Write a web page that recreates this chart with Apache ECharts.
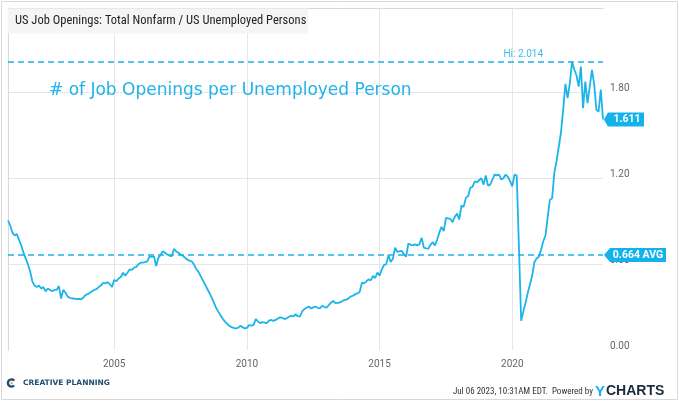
<!DOCTYPE html>
<html>
<head>
<meta charset="utf-8">
<script src="https://cdn.jsdelivr.net/npm/echarts@6/dist/echarts.min.js"></script>
<style>
html,body{margin:0;padding:0;background:#fff;}
#chart{width:679px;height:402px;}
</style>
</head>
<body>
<div id="chart"></div>
<script>
// Monthly ratio: US Job Openings (Total Nonfarm) / US Unemployed Persons
const startYear = 2000, startMonth = 12; // first observation: Dec 2000
const y2000 = [0.905];
const y2001 = [0.87,0.82,0.80,0.81,0.77,0.73,0.68,0.64,0.60,0.55,0.48,0.45];
const y2002 = [0.44,0.45,0.43,0.44,0.41,0.43,0.42,0.41,0.42,0.42,0.447,0.36];
const y2003 = [0.42,0.40,0.373,0.365,0.36,0.36,0.355,0.358,0.354,0.365,0.384,0.39];
const y2004 = [0.40,0.41,0.42,0.425,0.44,0.45,0.47,0.465,0.475,0.46,0.44,0.49];
const y2005 = [0.48,0.50,0.51,0.54,0.52,0.54,0.563,0.56,0.575,0.58,0.60,0.61];
const y2006 = [0.61,0.615,0.62,0.655,0.65,0.655,0.586,0.645,0.665,0.69,0.68,0.667];
const y2007 = [0.66,0.655,0.706,0.69,0.68,0.667,0.66,0.645,0.632,0.625,0.62,0.60];
const y2008 = [0.568,0.55,0.52,0.49,0.46,0.43,0.40,0.37,0.335,0.297,0.27,0.245];
const y2009 = [0.22,0.20,0.185,0.169,0.16,0.155,0.151,0.155,0.169,0.16,0.151,0.155];
const y2010 = [0.174,0.17,0.174,0.216,0.20,0.188,0.195,0.192,0.188,0.205,0.211,0.204];
const y2011 = [0.21,0.22,0.228,0.225,0.216,0.222,0.232,0.239,0.234,0.25,0.236,0.234];
const y2012 = [0.27,0.286,0.295,0.304,0.29,0.298,0.304,0.295,0.29,0.309,0.30,0.297];
const y2013 = [0.313,0.33,0.343,0.327,0.33,0.332,0.34,0.35,0.352,0.362,0.374,0.38];
const y2014 = [0.39,0.395,0.406,0.471,0.465,0.48,0.494,0.487,0.517,0.503,0.541,0.52];
const y2015 = [0.564,0.594,0.60,0.662,0.615,0.638,0.715,0.685,0.69,0.692,0.67,0.652];
const y2016 = [0.745,0.735,0.731,0.738,0.731,0.74,0.785,0.715,0.71,0.708,0.735,0.754];
const y2017 = [0.731,0.77,0.82,0.861,0.831,0.924,0.92,0.916,0.893,0.93,0.954,0.912];
const y2018 = [1.01,1.0,1.063,1.075,1.133,1.14,1.179,1.172,1.186,1.2,1.156,1.219];
const y2019 = [1.149,1.156,1.191,1.226,1.22,1.226,1.191,1.20,1.226,1.21,1.18,1.144];
const y2020 = [1.226,1.219,0.72,0.204,0.27,0.33,0.40,0.46,0.52,0.615,0.64,0.652];
const y2021 = [0.70,0.76,0.80,0.93,1.05,1.06,1.24,1.32,1.42,1.52,1.68,1.86];
const y2022 = [1.76,1.864,2.014,1.96,1.92,1.84,1.98,1.69,1.875,1.725,1.84,1.957];
const y2023 = [1.86,1.68,1.665,1.82,1.611];
const avgValue = 0.664;
const yTicks = [0, 0.6, 1.2, 1.8];
const xTickYears = [2005, 2010, 2015, 2020];

const ratio = [].concat(y2000,y2001,y2002,y2003,y2004,y2005,y2006,y2007,y2008,y2009,
  y2010,y2011,y2012,y2013,y2014,y2015,y2016,y2017,y2018,y2019,y2020,y2021,y2022,y2023);

const cats = [];
for (let i = 0; i < ratio.length; i++) {
  const m0 = (startMonth - 1) + i;
  const yy = startYear + Math.floor(m0 / 12);
  const mm = (m0 % 12) + 1;
  cats.push(yy + '-' + (mm < 10 ? '0' : '') + mm);
}
// month-end observations: the year boundary tick sits on the December point
const isYearTick = (idx, v) => {
  const yy = +v.slice(0, 4), mm = +v.slice(5, 7);
  return mm === 12 && xTickYears.indexOf(yy + 1) >= 0;
};

const blue = '#1cb5ea';
const boxBlue = '#14b2ea';
const arrowBox = 'path://M0,7L6,0L62,0L62,14L6,14Z';
const last = ratio.length - 1;

const chart = echarts.init(document.getElementById('chart'), null, {renderer: 'canvas'});
chart.setOption({
  animation: false,
  backgroundColor: '#fff',
  grid: {left: 8, right: 76, top: 8, bottom: 52, containLabel: false},
  xAxis: [{
    type: 'category', data: cats, boundaryGap: false,
    axisLine: {show: false}, axisTick: {show: false},
    axisLabel: {interval: isYearTick, formatter: v => String(+v.slice(0, 4) + 1),
      color: '#666', fontSize: 10, fontFamily: 'Roboto', margin: 9},
    splitLine: {show: true, interval: isYearTick, lineStyle: {color: '#e6e6e6', width: 1}}
  }, {
    type: 'value', position: 'top', min: 0, max: 1,
    axisLine: {show: true, onZero: false, lineStyle: {color: '#d9d9d9'}},
    axisTick: {show: false}, axisLabel: {show: false}, splitLine: {show: false}
  }],
  yAxis: [{
    type: 'value', position: 'right', min: 0, max: 2.39, interval: 0.6,
    axisLine: {show: true, lineStyle: {color: '#d9d9d9'}},
    axisTick: {show: false},
    axisLabel: {showMaxLabel: false, color: '#666', fontSize: 10, fontFamily: 'Roboto',
      margin: 7, verticalAlign: 'bottom', lineHeight: 7,
      formatter: v => (yTicks.some(t => Math.abs(t - v) < 1e-6) ? v.toFixed(2) : '')},
    splitLine: {show: true, lineStyle: {color: ['rgba(0,0,0,0)', '#e6e6e6', '#e6e6e6', '#e6e6e6', 'rgba(0,0,0,0)']}}
  }, {
    type: 'value', position: 'left', min: 0, max: 1,
    axisLine: {show: true, onZero: false, lineStyle: {color: '#d9d9d9'}},
    axisTick: {show: false}, axisLabel: {show: false}, splitLine: {show: false}
  }],
  series: [{
    type: 'line', data: ratio, xAxisIndex: 0, yAxisIndex: 0,
    showSymbol: false, symbol: 'none',
    lineStyle: {color: blue, width: 1.8},
    z: 3,
    markLine: {
      silent: true, symbol: ['none', 'none'], precision: 3,
      lineStyle: {color: '#1eb1e7', width: 1.5, type: [6, 4]},
      data: [
        {type: 'max', name: 'Hi',
          label: {show: true, position: 'insideEndTop', formatter: p => 'Hi: ' + Number(p.value).toFixed(3),
            color: '#3dbbea', fontSize: 10, fontFamily: 'Roboto', distance: 2, padding: [0, 58, 0, 0]}},
        {yAxis: avgValue, name: 'AVG', label: {show: false}}
      ]
    },
    markPoint: {
      silent: true,
      label: {show: true, position: 'inside', color: '#fff', fontWeight: 'bold',
        fontSize: 10.5, fontFamily: 'Roboto', offset: [3, 0]},
      data: [
        {coord: [cats[last], ratio[last]], value: ratio[last], symbol: arrowBox,
          symbolSize: [40, 14], symbolOffset: [21, 0], itemStyle: {color: boxBlue},
          label: {formatter: p => Number(p.value).toFixed(3)}},
        {coord: [cats[last], avgValue], value: avgValue, symbol: arrowBox,
          symbolSize: [62, 14], symbolOffset: [32, 0], itemStyle: {color: boxBlue},
          label: {formatter: p => Number(p.value).toFixed(3) + ' AVG'}}
      ]
    }
  }],
  graphic: [
    {type: 'rect', shape: {x: 1.5, y: 1.5, width: 676, height: 398},
      style: {fill: 'none', stroke: '#d9d9d9', lineWidth: 1}, z: -1, silent: true},
    {type: 'rect', shape: {x: 8, y: 8.5, width: 300, height: 25},
      style: {fill: '#f5f5f5'}, z: 10, silent: true},
    {type: 'text', x: 15, y: 21, z: 11, silent: true,
      style: {text: 'US Job Openings: Total Nonfarm / US Unemployed Persons',
        font: '12.5px "Liberation Sans Narrow", "Roboto Condensed", Roboto, sans-serif',
        fill: '#222', verticalAlign: 'middle'}},
    {type: 'text', x: 49, y: 91, z: 11, silent: true,
      style: {text: '# of Job Openings per Unemployed Person',
        font: '17px "DejaVu Sans", sans-serif', fill: '#1fb3ea', verticalAlign: 'middle'}},
    {type: 'arc', shape: {cx: 11.5, cy: 383, r: 3.6, startAngle: 0.75, endAngle: 5.55, clockwise: true},
      style: {stroke: '#1f4e6e', lineWidth: 2.4, fill: 'none'}, z: 11, silent: true},
    {type: 'rect', shape: {x: 10.6, y: 382.1, width: 2, height: 2},
      style: {fill: '#e0a030'}, z: 11, silent: true},
    {type: 'text', x: 23, y: 383.5, z: 11, silent: true,
      style: {text: 'CREATIVE PLANNING', font: 'bold 7.5px "DejaVu Sans", sans-serif',
        fill: '#1f4e6e', verticalAlign: 'middle'}},
    {type: 'text', x: 593, y: 391.5, z: 11, silent: true,
      style: {text: 'Jul 06 2023, 10:31AM EDT.  Powered by',
        font: '9px "Liberation Sans Narrow", "Roboto Condensed", Roboto, sans-serif',
        fill: '#333', align: 'right', verticalAlign: 'middle'}},
    {type: 'text', x: 595, y: 391.5, z: 11, silent: true,
      style: {text: '{y|Y}{c|CHARTS}', verticalAlign: 'middle',
        rich: {
          y: {font: 'bold 15px "Liberation Sans", Arial, sans-serif', fill: '#1bb0ea', padding: [0, 1, 0, 0]},
          c: {font: 'bold 14px "Liberation Sans", Arial, sans-serif', fill: '#1c2b3c'}
        }}}
  ]
});
</script>
</body>
</html>
